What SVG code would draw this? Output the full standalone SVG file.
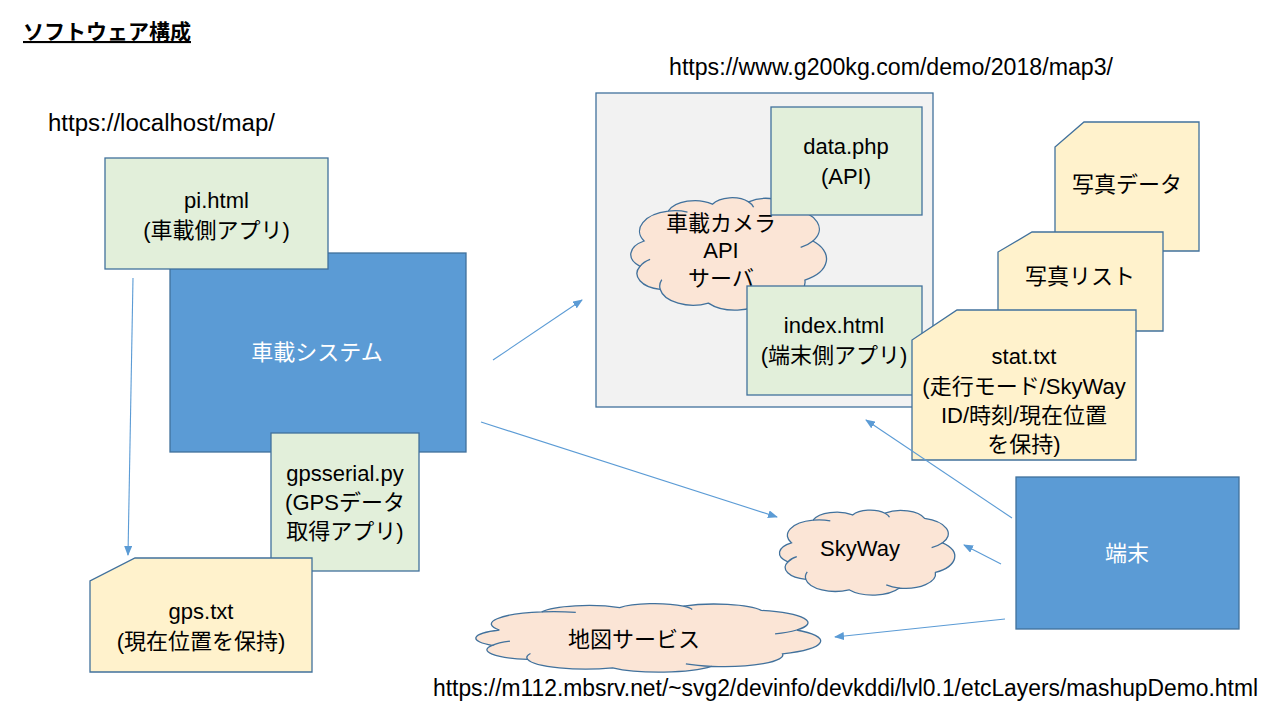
<svg xmlns="http://www.w3.org/2000/svg" xmlns:xlink="http://www.w3.org/1999/xlink" width="1280" height="720" viewBox="0 0 1280 720">
<style>
text{font-family:"Liberation Sans","Noto Sans CJK JP",sans-serif;font-size:22px;fill:#000;text-anchor:middle}
.l{text-anchor:start}
.w{fill:#fff}
.green{fill:#E2EFDA;stroke:#41719C;stroke-width:1.3}
.blue{fill:#5B9BD5;stroke:#41719C;stroke-width:1.3}
.doc{fill:#FFF2CC;stroke:#41719C;stroke-width:1.3}
.gray{fill:#F2F2F2;stroke:#41719C;stroke-width:1.3}
.cloud{fill:#FBE5D6;stroke:#41719C;stroke-width:1.3}
.conn{stroke:#5B9BD5;stroke-width:1.1;fill:none;marker-end:url(#arr)}
</style>
<defs>
<marker id="arr" markerWidth="10" markerHeight="8" refX="9" refY="4" orient="auto" markerUnits="userSpaceOnUse"><path d="M0,0 L10,4 L0,8 Z" fill="#5B9BD5"/></marker>
<g id="cloudShape">
<path vector-effect="non-scaling-stroke" d="M8,40 A17.7,17.7 0 0 1 20,14 A14.1,14.1 0 0 1 42,8 A11.2,11.2 0 0 1 60,6 A14.1,14.1 0 0 1 82,12 A18.4,18.4 0 0 1 92,40 A21.2,21.2 0 0 1 88,74 A16.7,16.7 0 0 1 68,92 A17.4,17.4 0 0 1 40,94 A16.6,16.6 0 0 1 16,82 A13.9,13.9 0 0 1 6,62 A13.7,13.7 0 0 1 8,40 Z"/>
<path vector-effect="non-scaling-stroke" fill="none" d="M6,62 A14,14 0 0 1 11,56 M20,14 A17.7,17.7 0 0 1 29.6,14.8 M92,40 A18.4,18.4 0 0 1 85.9,45.6 M68,92 A16.7,16.7 0 0 1 60.7,88.4 M16,82 A16.6,16.6 0 0 1 16.8,73.5 M60,6 A11.2,11.2 0 0 1 62.5,10.7"/>
</g>
</defs>
<rect width="1280" height="720" fill="#fff"/>

<g id="title">
<text class="l" x="23" y="39" style="font-size:21px;font-weight:bold;text-decoration:underline">ソフトウェア構成</text>
</g>
<g id="url-localhost"><text class="l" x="48" y="131" style="font-size:23px" textLength="227" lengthAdjust="spacingAndGlyphs">https://localhost/map/</text></g>
<g id="url-g200kg"><text class="l" x="669" y="75" style="font-size:23px" textLength="444" lengthAdjust="spacingAndGlyphs">https://www.g200kg.com/demo/2018/map3/</text></g>
<g id="url-mashup"><text class="l" x="433" y="696" style="font-size:23px" textLength="825" lengthAdjust="spacingAndGlyphs">https://m112.mbsrv.net/~svg2/devinfo/devkddi/lvl0.1/etcLayers/mashupDemo.html</text></g>

<g id="server">
<rect class="gray" x="596" y="93" width="337" height="314"/>
</g>
<g id="camera-api-server">
<use xlink:href="#cloudShape" href="#cloudShape" class="cloud" transform="translate(628,195) scale(2.01,1.15)"/>
<text x="721" y="231">車載カメラ</text>
<text x="721" y="258">API</text>
<text x="721" y="286">サーバ</text>
</g>
<g id="data-php">
<rect class="green" x="771" y="107" width="151" height="108"/>
<text x="846" y="154">data.php</text>
<text x="846" y="184">(API)</text>
</g>
<g id="index-html">
<rect class="green" x="747" y="286" width="175" height="109"/>
<text x="834" y="333">index.html</text>
<text x="834" y="363">(端末側アプリ)</text>
</g>

<g id="photo-data">
<path class="doc" d="M1084,122 L1199,122 L1199,251 L1055,251 L1055,147 Z"/>
<text x="1127" y="192">写真データ</text>
</g>
<g id="photo-list">
<path class="doc" d="M1032,232 L1163,232 L1163,331 L998,331 L998,252 Z"/>
<text x="1080" y="284">写真リスト</text>
</g>
<g id="stat-txt">
<path class="doc" d="M957,310 L1136,310 L1136,460 L912,460 L912,340 Z"/>
<text x="1024" y="364">stat.txt</text>
<text x="1024" y="394">(走行モード/SkyWay</text>
<text x="1024" y="423">ID/時刻/現在位置</text>
<text x="1024" y="452">を保持)</text>
</g>

<g id="vehicle-system">
<rect class="blue" x="170" y="253" width="296" height="199"/>
<text class="w" x="317" y="360">車載システム</text>
</g>
<g id="pi-html">
<rect class="green" x="105" y="158" width="223" height="111"/>
<text x="216.5" y="208">pi.html</text>
<text x="216.5" y="238">(車載側アプリ)</text>
</g>
<g id="gpsserial-py">
<rect class="green" x="271" y="433" width="148" height="138"/>
<text x="345" y="481">gpsserial.py</text>
<text x="345" y="510">(GPSデータ</text>
<text x="345" y="539">取得アプリ)</text>
</g>
<g id="gps-txt">
<path class="doc" d="M135,558 L312,558 L312,672 L90,672 L90,581 Z"/>
<text x="201" y="619">gps.txt</text>
<text x="201" y="649">(現在位置を保持)</text>
</g>

<g id="terminal">
<rect class="blue" x="1016" y="477" width="223" height="152"/>
<text class="w" x="1127" y="561">端末</text>
</g>
<g id="skyway">
<use xlink:href="#cloudShape" href="#cloudShape" class="cloud" transform="translate(777,508) scale(1.80,0.87)"/>
<text x="860" y="556">SkyWay</text>
</g>
<g id="map-service">
<use xlink:href="#cloudShape" href="#cloudShape" class="cloud" transform="translate(471,602) scale(3.54,0.70)"/>
<text x="634" y="647">地図サービス</text>
</g>

<g id="connectors">
<path class="conn" d="M133,278 L128,555"/>
<path class="conn" d="M493,360 L582,300"/>
<path class="conn" d="M481,422 L777,517"/>
<path class="conn" d="M1012,518 L866,420"/>
<path class="conn" d="M1001,564 L964,545"/>
<path class="conn" d="M1005,619 L835,637"/>
</g>
</svg>
